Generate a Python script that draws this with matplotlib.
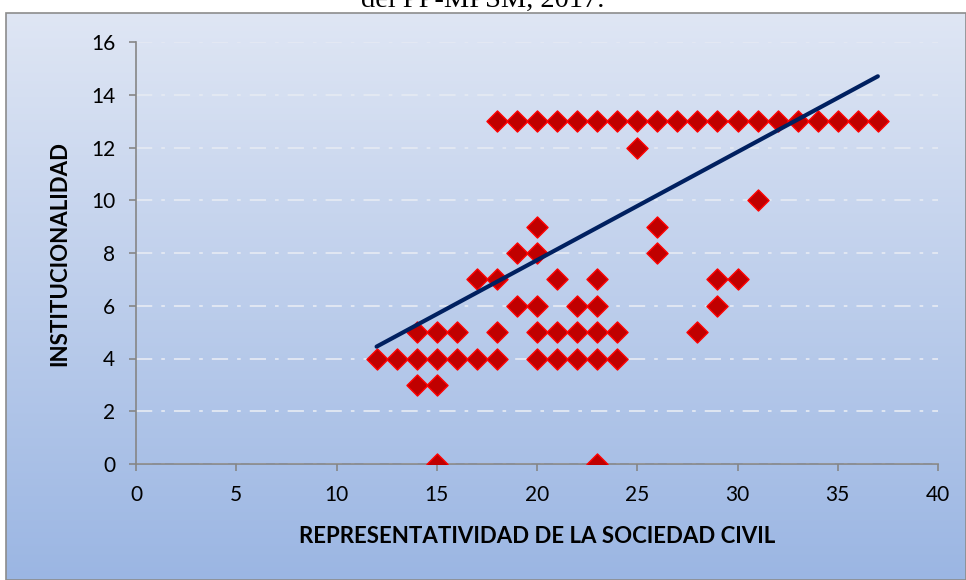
import numpy as np
import matplotlib
matplotlib.use("Agg")
import matplotlib.pyplot as plt
from matplotlib.patches import Rectangle

# puntos (x = representatividad, y = institucionalidad)
x_13 = [18, 19, 20, 21, 22, 23, 24, 25, 26, 27, 28, 29, 30, 31, 32, 33, 34, 35, 36, 37]
rep = x_13 + [25, 31, 20, 26, 19, 20, 26,
              17, 18, 21, 23, 29, 30,
              19, 20, 22, 23, 29,
              14, 15, 16, 18, 20, 21, 22, 23, 24, 28,
              12, 13, 14, 15, 16, 17, 18, 20, 21, 22, 23, 24,
              14, 15,
              15, 23]
inst = [13] * len(x_13) + [12, 10, 9, 9, 8, 8, 8,
                           7, 7, 7, 7, 7, 7,
                           6, 6, 6, 6, 6,
                           5, 5, 5, 5, 5, 5, 5, 5, 5, 5,
                           4, 4, 4, 4, 4, 4, 4, 4, 4, 4, 4, 4,
                           3, 3,
                           0, 0]

# linea de tendencia (extremos; hay puntos superpuestos)
trend_x = [12, 37]
trend_y = [4.45, 14.7]

xticks = np.arange(0, 41, 5)
yticks = np.arange(0, 17, 2)

plt.rcParams['font.family'] = ['Lato', 'DejaVu Sans']

fig = plt.figure(figsize=(9.66, 5.80), dpi=100)

# fondo degradado del area del grafico
bg = fig.add_axes([0, 0, 1, 1], zorder=0)
grad = np.linspace(0, 1, 256).reshape(-1, 1)
top = np.array([0xdf, 0xe6, 0xf4]) / 255
bot = np.array([0x9b, 0xb6, 0xe3]) / 255
img = top + (bot - top) * grad[:, :, None]
bg.imshow(img, extent=[6 / 966, 1.0, 0, 1 - 13 / 580], aspect='auto', origin='upper')
bg.add_patch(Rectangle((6 / 966, 0), 1 - 6 / 966, 1 - 13 / 580, fill=False,
                       edgecolor='#8c8c8c', linewidth=1.2))
bg.set_xlim(0, 1)
bg.set_ylim(0, 1)
bg.axis('off')

# titulo cortado en el borde superior, como en el original
fig.text(0.5, 1 - 7 / 580, 'del PP-MPSM, 2017.', ha='center', va='baseline',
         family='Liberation Serif', fontsize=20.5)

ax = fig.add_axes([136 / 966, 1 - 464 / 580, (938 - 136) / 966, (464 - 42) / 580], zorder=1)
ax.set_facecolor('none')

ax.scatter(rep, inst, marker='D', s=115, color='#c00000', edgecolors='#ff0000',
           linewidths=1.0, zorder=3)

ax.plot(trend_x, trend_y, color='#002060', linewidth=3.0, solid_capstyle='round', zorder=4)

ax.set_xlim(0, 40)
ax.set_ylim(0, 16)
ax.set_xticks(xticks)
ax.set_yticks(yticks)
ax.tick_params(labelsize=15, colors='#868686', length=5, width=1.2, labelcolor='black')
ax.tick_params(axis='x', pad=10)
ax.tick_params(axis='y', pad=10)
ax.yaxis.grid(True, color='#e4e9f3', linestyle=(0, (9, 5, 2, 5)), linewidth=1.3)
ax.set_axisbelow(True)
for sp in ['top', 'right']:
    ax.spines[sp].set_visible(False)
for sp in ['left', 'bottom']:
    ax.spines[sp].set_color('#868686')
    ax.spines[sp].set_linewidth(1.2)

ax.set_xlabel('REPRESENTATIVIDAD DE LA SOCIEDAD CIVIL', fontsize=16, fontweight='bold', labelpad=15)
ax.set_ylabel('INSTITUCIONALIDAD', fontsize=16, fontweight='bold', labelpad=15)

fig.savefig('out.png', dpi=100)
